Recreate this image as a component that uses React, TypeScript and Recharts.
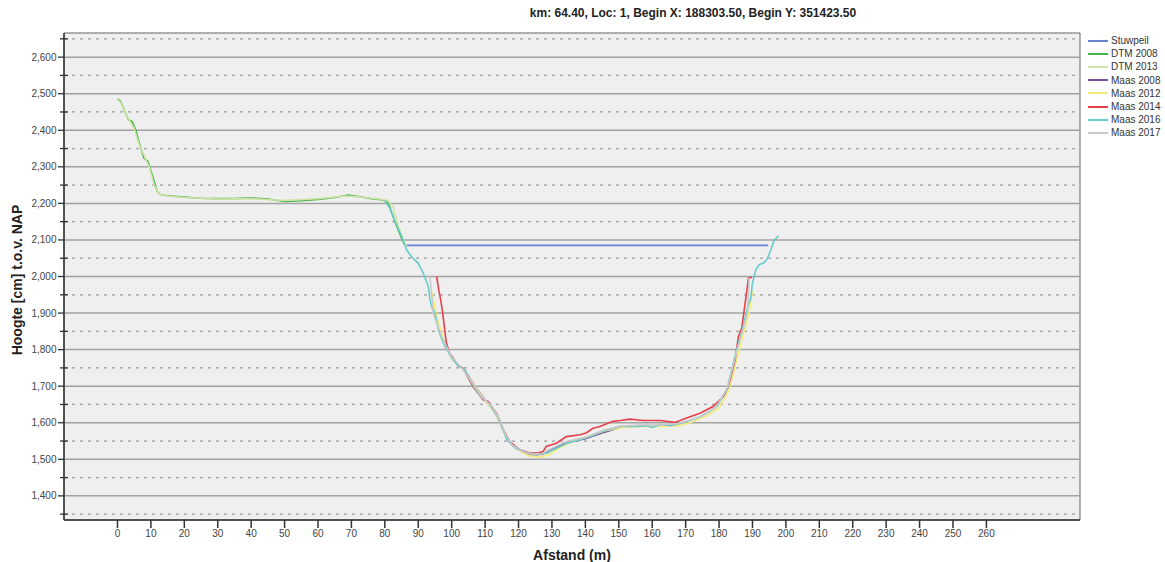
import React from 'react';
import {
  LineChart,
  Line,
  XAxis,
  YAxis,
  CartesianGrid,
  ReferenceLine,
  ReferenceArea,
} from 'recharts';

const FONT = '"Liberation Sans", Arial, Helvetica, sans-serif';

const TITLE = 'km: 64.40, Loc: 1, Begin X: 188303.50, Begin Y: 351423.50';

const X_TICKS = [0, 10, 20, 30, 40, 50, 60, 70, 80, 90, 100, 110, 120, 130, 140, 150, 160, 170, 180, 190, 200, 210, 220, 230, 240, 250, 260];
const Y_MAJOR = [1400, 1500, 1600, 1700, 1800, 1900, 2000, 2100, 2200, 2300, 2400, 2500, 2600];
const Y_MINOR = [1350, 1450, 1550, 1650, 1750, 1850, 1950, 2050, 2150, 2250, 2350, 2450, 2550, 2650];

// [afstand (m), hoogte (cm)]
const STUWPEIL: [number, number][] = [[86.5, 2085], [194.7, 2085]];

const DTM_2008: [number, number][] = [
  [0, 2486], [1, 2478], [2, 2455], [3.3, 2429], [4.4, 2424], [5.5, 2400], [6.5, 2365], [7.9, 2324],
  [9.1, 2315], [10.5, 2275], [11.9, 2233], [12.8, 2224], [15, 2221], [20, 2217], [25, 2214], [30, 2213],
  [35, 2213], [40, 2215], [45, 2212], [50, 2205], [55, 2207], [60, 2211], [65, 2216], [69, 2223],
  [72, 2219], [76, 2213], [79, 2210], [80.5, 2206], [81.5, 2190], [83, 2150], [85, 2105], [86, 2085],
];

const DTM_2013: [number, number][] = [
  [0, 2484], [1, 2475], [2.5, 2445], [4, 2420], [5, 2405], [6.5, 2360], [8, 2330], [9.5, 2300],
  [11, 2250], [12.5, 2225], [15, 2220], [20, 2216], [30, 2212], [40, 2213], [50, 2208], [60, 2213],
  [68, 2220], [72, 2218], [78, 2212], [81, 2207], [82.5, 2190], [84, 2140], [85.5, 2100], [86.5, 2082],
];

const MAAS_2008: [number, number][] = [
  [104, 1742], [107, 1700], [110, 1662], [112, 1640], [114, 1612], [116, 1570], [118, 1540], [121, 1522],
  [124, 1512], [127, 1514], [130, 1528], [133, 1540], [136, 1548], [140, 1556], [145, 1572], [150, 1586],
];

const MAAS_2012: [number, number][] = [
  [94, 1960], [95.5, 1890], [97.5, 1830], [100, 1775], [104, 1740], [107, 1700], [110, 1660], [113, 1628],
  [115.5, 1580], [117.5, 1545], [120, 1525], [123, 1510], [126, 1506], [129, 1512], [132, 1530], [136, 1548],
  [140, 1560], [146, 1578], [152, 1588], [158, 1590], [164, 1590], [168, 1592], [172, 1602], [176, 1618],
  [180, 1640], [183, 1690], [185.5, 1780], [187.5, 1850], [189, 1900], [190, 1960],
];

const MAAS_2014: [number, number][] = [
  [95.5, 2000], [96.2, 1960], [96.7, 1937], [97.3, 1901], [98.4, 1818], [99.4, 1790], [101.9, 1758],
  [103.4, 1749], [106.4, 1699], [109.4, 1663], [110.9, 1658], [113.4, 1626], [115.4, 1581], [117.3, 1549],
  [120.3, 1526], [123.3, 1517], [126, 1518], [127.3, 1521], [128.3, 1535], [131.3, 1544], [134.3, 1562],
  [138.4, 1567], [140.2, 1572], [142.3, 1585], [144.3, 1590], [148.3, 1604], [150.5, 1606], [153.3, 1610],
  [157.3, 1606], [162.4, 1606], [166.8, 1601], [170.3, 1613], [174.3, 1626], [178.3, 1645], [181.3, 1672],
  [182.8, 1699], [184.8, 1772], [185.8, 1836], [186.8, 1859], [187.8, 1927], [188.8, 1995], [189.8, 1998],
];

const MAAS_2016: [number, number][] = [
  [80, 2208], [80.7, 2198], [81.5, 2187], [83, 2151], [85, 2110], [86.5, 2073], [88, 2054], [90, 2036],
  [91.5, 2009], [93, 1973], [93.5, 1936], [94, 1918], [95, 1900], [96, 1855], [97.5, 1818], [100, 1777],
  [102, 1754], [104, 1745], [106, 1709], [108.5, 1673], [111, 1654], [113.5, 1622], [115, 1590], [116.5, 1554],
  [119, 1531], [122.5, 1517], [125.5, 1513], [128.5, 1517], [131.5, 1531], [134.5, 1544], [138.5, 1554],
  [142.5, 1565], [144.5, 1575], [150.5, 1590], [156, 1590], [158.5, 1592], [160, 1587], [162.5, 1595],
  [165.5, 1592], [168.5, 1599], [171.5, 1607], [174.5, 1617], [177, 1630], [179.5, 1645], [182.5, 1695],
  [185, 1791], [187, 1855], [188.5, 1914], [189.5, 1941], [190, 1982], [191, 2018], [192, 2032],
  [193.5, 2038], [194.5, 2050], [195.5, 2073], [196.5, 2100], [197.8, 2111],
];

const MAAS_2017: [number, number][] = [
  [93.5, 2000], [94.5, 1900], [96, 1860], [97.5, 1825], [100, 1780], [103, 1750], [106, 1712], [109, 1670],
  [112, 1645], [114, 1615], [116, 1570], [118, 1540], [121, 1522], [124, 1514], [127, 1515], [130, 1530],
  [134, 1548], [140, 1560], [145, 1578], [150, 1590], [156, 1594], [162, 1594], [168, 1598], [174, 1615],
  [179, 1642], [182.5, 1695], [185, 1785], [187, 1850], [188.5, 1900], [189, 1995],
];

const SERIES = [
  { name: 'Stuwpeil', color: '#6683d3', points: STUWPEIL },
  { name: 'DTM 2008', color: '#45b34a', points: DTM_2008 },
  { name: 'DTM 2013', color: '#cfe3a6', points: DTM_2013 },
  { name: 'Maas 2008', color: '#7a4c9c', points: MAAS_2008 },
  { name: 'Maas 2012', color: '#f4ec78', points: MAAS_2012 },
  { name: 'Maas 2014', color: '#e6404a', points: MAAS_2014 },
  { name: 'Maas 2016', color: '#66cbcb', points: MAAS_2016 },
  { name: 'Maas 2017', color: '#c9c9c9', points: MAAS_2017 },
];

const YTick = (props: any) => {
  const { y, payload } = props;
  const v = payload.value as number;
  const major = v % 100 === 0;
  return (
    <g>
      <line x1={major ? 58 : 60} x2={major ? 64 : 68} y1={y} y2={y} stroke="#333" strokeWidth={1.3} />
      {major && (
        <text x={56.5} y={y} dy={3.5} textAnchor="end" fontSize={10} fill="#444" fontFamily={FONT}>
          {v.toLocaleString('en-US')}
        </text>
      )}
    </g>
  );
};

export default function App() {
  return (
    <div style={{ position: 'absolute', left: 0, top: 0, width: 1165, height: 562, background: '#fff' }}>
      <LineChart width={1165} height={562} margin={{ top: 33, right: 85, bottom: 0, left: 0 }}>
        <CartesianGrid fill="#efefef" horizontal={false} vertical={false} />
        {Y_MINOR.map((v) => (
          <ReferenceLine key={`mn-${v}`} y={v} stroke="#9c9c9c" strokeWidth={1.2} strokeDasharray="3 5" />
        ))}
        {Y_MAJOR.map((v) => (
          <ReferenceLine key={`mj-${v}`} y={v} stroke="#a2a2a2" strokeWidth={1.5} />
        ))}
        <ReferenceArea x1={-16} x2={288} y1={1334} y2={2666} fill="none" stroke="#666" strokeWidth={1} />
        <XAxis
          type="number"
          dataKey="x"
          domain={[-16, 288]}
          ticks={X_TICKS}
          interval={0}
          allowDataOverflow
          height={42}
          tickSize={8}
          tickMargin={2}
          axisLine={{ stroke: '#333', strokeWidth: 1.5 }}
          tickLine={{ stroke: '#333', strokeWidth: 1.5 }}
          tick={{ fontSize: 10, fill: '#444', fontFamily: FONT }}
        />
        <YAxis
          type="number"
          dataKey="y"
          domain={[1334, 2666]}
          ticks={[...Y_MINOR, ...Y_MAJOR].sort((a, b) => a - b)}
          interval={0}
          allowDataOverflow
          width={64}
          tickLine={false}
          axisLine={{ stroke: '#333', strokeWidth: 1.5 }}
          tick={YTick}
        />
        {SERIES.map((s) => (
          <Line
            key={s.name}
            name={s.name}
            data={s.points.map(([x, y]) => ({ x, y }))}
            dataKey="y"
            type="linear"
            stroke={s.color}
            strokeWidth={1.6}
            dot={false}
            activeDot={false}
            isAnimationActive={false}
          />
        ))}
      </LineChart>

      {/* legend rechts naast de grafiek */}
      <div style={{ position: 'absolute', left: 1088, top: 34, fontFamily: FONT, fontSize: 10, color: '#333' }}>
        {SERIES.map((s) => (
          <div key={s.name} style={{ display: 'flex', alignItems: 'center', height: 13.2 }}>
            <div style={{ width: 20, height: 2, background: s.color, marginRight: 3 }} />
            <span>{s.name}</span>
          </div>
        ))}
      </div>

      <svg
        width={1165}
        height={562}
        style={{ position: 'absolute', left: 0, top: 0, pointerEvents: 'none' }}
        fontFamily={FONT}
      >
        <text x={693} y={17} textAnchor="middle" fontSize={12} fontWeight="bold" fill="#222">
          {TITLE}
        </text>
        <text
          x={22}
          y={280}
          transform="rotate(-90 22 280)"
          textAnchor="middle"
          fontSize={14}
          fontWeight="bold"
          fill="#222"
        >
          Hoogte [cm] t.o.v. NAP
        </text>
        <text x={572} y={560} textAnchor="middle" fontSize={14} fontWeight="bold" fill="#222">
          Afstand (m)
        </text>
      </svg>
    </div>
  );
}
